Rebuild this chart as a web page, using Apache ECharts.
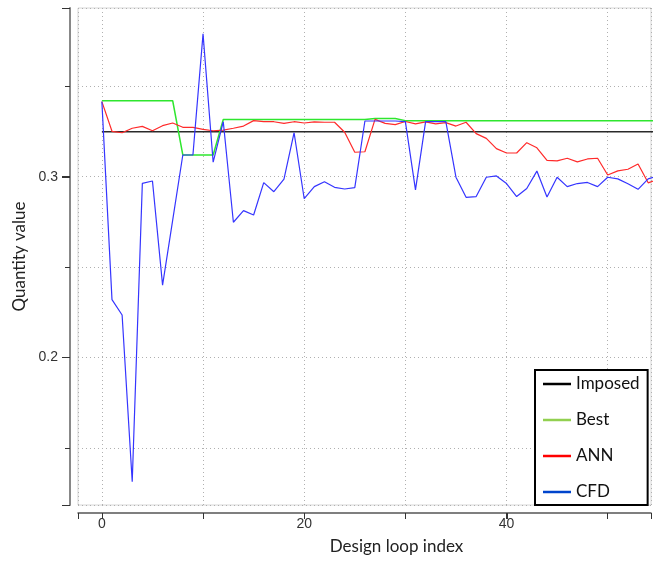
<!DOCTYPE html>
<html><head><meta charset="utf-8">
<script src="https://cdn.jsdelivr.net/npm/echarts@6/dist/echarts.min.js"></script>
<style>html,body{margin:0;padding:0;background:#fff}#c{width:654px;height:563px}</style>
</head><body><div id="c"></div>
<script>
const loopIndex = [0,1,2,3,4,5,6,7,8,9,10,11,12,13,14,15,16,17,18,19,20,21,22,23,24,25,26,27,28,29,30,31,32,33,34,35,36,37,38,39,40,41,42,43,44,45,46,47,48,49,50,51,52,53,54,55];
const cfd = [0.3415,0.232,0.2235,0.1313,0.2963,0.2976,0.240,0.276,0.312,0.312,
  0.379,0.308,0.3304,0.2748,0.2812,0.2788,0.2967,0.2917,0.2986,0.3243,
  0.2878,0.2945,0.2972,0.2941,0.2932,0.2939,0.3308,0.3308,0.3308,0.3308,
  0.3305,0.2927,0.3305,0.3305,0.3305,0.2997,0.2886,0.289,0.2997,0.3004,
  0.2962,0.289,0.2935,0.3031,0.2888,0.2997,0.2945,0.2962,0.2968,0.2945,
  0.2997,0.2988,0.2961,0.293,0.2988,0.3005];
const ann = [0.3415,0.3251,0.3243,0.3268,0.3278,0.3254,0.3282,0.3297,0.3273,0.3273,
  0.3262,0.3254,0.3258,0.3268,0.328,0.331,0.3304,0.3304,0.3295,0.3304,
  0.3297,0.3303,0.3301,0.3301,0.3246,0.3135,0.3138,0.3317,0.3295,0.3288,
  0.3305,0.3292,0.3303,0.3292,0.3299,0.328,0.3301,0.3238,0.3212,0.3155,
  0.3131,0.3131,0.3188,0.316,0.309,0.3087,0.3102,0.3082,0.3098,0.3102,
  0.3009,0.3032,0.3041,0.307,0.2966,0.2985];
const best = [0.342,0.342,0.342,0.342,0.342,0.342,0.342,0.342,0.312,0.312,
  0.312,0.312,0.3316,0.3316,0.3316,0.3316,0.3316,0.3316,0.3316,0.3316,
  0.3316,0.3316,0.3316,0.3316,0.3316,0.3316,0.3316,0.3322,0.3322,0.3322,
  0.331,0.331,0.331,0.331,0.331,0.331,0.331,0.331,0.331,0.331,
  0.331,0.331,0.331,0.331,0.331,0.331,0.331,0.331,0.331,0.331,
  0.331,0.331,0.331,0.331,0.331,0.331];
const imposedX = [0, 55];
const imposedY = [0.3248, 0.3248];
const xLabelValues = [0,20,40];
const yLabelValues = [0.2,0.3];
const seriesNames = ['Imposed','Best','ANN','CFD'];

const near = (v, list) => list.some(t => Math.abs(v - t) < 1e-6);
const pairs = (xs, ys) => xs.map((x, i) => [x, ys[i]]);
const chart = echarts.init(document.getElementById('c'), null, {renderer:'canvas'});
const dotted = {color:'#b0b0b0', width:1, type:[1,3]};
const X_MIN = -2.36, X_MAX = 54.28, Y_MIN = 0.1184, Y_MAX = 0.3933, AXIS_OFFSET = 8;
const xRange = {type:'value', min:X_MIN, max:X_MAX, splitNumber:5, offset:AXIS_OFFSET, position:'bottom'};
const yRange = {type:'value', min:Y_MIN, max:Y_MAX, splitNumber:2, offset:AXIS_OFFSET, position:'left'};
chart.setOption({
  animation:false,
  backgroundColor:'#fff',
  grid:{left:78, right:0, top:8, bottom:58, show:true, borderColor:'#d6d6d6', borderWidth:1, backgroundColor:'#fff'},
  xAxis:[
    Object.assign({}, xRange, {
      axisLine:{show:true, onZero:false, lineStyle:{color:'#555', width:1.5}},
      axisTick:{show:true, length:6, lineStyle:{color:'#333'}},
      axisLabel:{show:false},
      splitLine:{show:true, lineStyle:dotted}
    }),
    Object.assign({}, xRange, {
      axisLine:{show:false, onZero:false},
      axisTick:{show:false},
      splitLine:{show:false},
      axisLabel:{margin:4, hideOverlap:false,
        fontFamily:'Liberation Sans', fontSize:14, color:'#333',
        formatter:v => near(v, xLabelValues) ? String(Math.round(v)) : ''},
      name:'Design loop index', nameLocation:'middle', nameGap:25,
      nameTextStyle:{fontFamily:'Lato', fontSize:17, color:'#222', padding:[0,0,0,64]}
    })
  ],
  yAxis:[
    Object.assign({}, yRange, {
      axisLine:{show:true, onZero:false, lineStyle:{color:'#888', width:2}},
      axisTick:{show:true, length:8, lineStyle:{color:'#333'}},
      minorTick:{show:true, splitNumber:2, length:5, lineStyle:{color:'#333'}},
      axisLabel:{show:false},
      splitLine:{show:true, lineStyle:dotted},
      minorSplitLine:{show:true, lineStyle:dotted}
    }),
    Object.assign({}, yRange, {
      axisLine:{show:false, onZero:false},
      axisTick:{show:false},
      splitLine:{show:false},
      axisLabel:{margin:12, hideOverlap:false,
        fontFamily:'Liberation Sans', fontSize:14, color:'#333',
        formatter:v => near(v, yLabelValues) ? v.toFixed(1) : ''},
      name:'Quantity value', nameLocation:'middle', nameGap:38,
      nameTextStyle:{fontFamily:'Lato', fontSize:17, color:'#222'}
    })
  ],
  legend:{
    orient:'vertical', left:535, top:370, padding:[5,8,4,8], itemGap:18,
    itemWidth:28, itemHeight:2.5, icon:'rect',
    borderColor:'#000', borderWidth:2, backgroundColor:'#fff',
    textStyle:{fontFamily:'Lato', fontSize:17, color:'#111', lineHeight:18},
    data:[
      {name:seriesNames[0], itemStyle:{color:'#000'}},
      {name:seriesNames[1], itemStyle:{color:'#92d050'}},
      {name:seriesNames[2], itemStyle:{color:'#ff0000'}},
      {name:seriesNames[3], itemStyle:{color:'#0044cc'}}
    ]
  },
  series:[
    {name:seriesNames[0], type:'line', data:pairs(imposedX, imposedY), showSymbol:false, symbol:'none',
      lineStyle:{color:'#2a2a2a', width:1.5}, itemStyle:{color:'#000'}},
    {name:seriesNames[1], type:'line', data:pairs(loopIndex, best), showSymbol:false, symbol:'none',
      lineStyle:{color:'#2ee62e', width:1.5}, itemStyle:{color:'#92d050'}},
    {name:seriesNames[2], type:'line', data:pairs(loopIndex, ann), showSymbol:false, symbol:'none',
      lineStyle:{color:'#ff2a2a', width:1.2}, itemStyle:{color:'#ff0000'}},
    {name:seriesNames[3], type:'line', data:pairs(loopIndex, cfd), showSymbol:false, symbol:'none',
      lineStyle:{color:'#3535ff', width:1.2}, itemStyle:{color:'#0044cc'}}
  ]
});

// Tick marks at the labelled values, placed through the axes' own scales.
const axisY = chart.convertToPixel({yAxisIndex:0}, Y_MIN) + AXIS_OFFSET;
const axisX = chart.convertToPixel({xAxisIndex:0}, X_MIN) - AXIS_OFFSET;
const tickStyle = {stroke:'#333', lineWidth:1};
const tickEls = [];
xLabelValues.forEach(v => {
  const px = Math.round(chart.convertToPixel({xAxisIndex:0}, v)) + 0.5;
  tickEls.push({type:'line', z:100, silent:true, shape:{x1:px, y1:axisY, x2:px, y2:axisY + 6}, style:tickStyle});
});
yLabelValues.forEach(v => {
  const py = Math.round(chart.convertToPixel({yAxisIndex:0}, v)) + 0.5;
  tickEls.push({type:'line', z:100, silent:true, shape:{x1:axisX - 8, y1:py, x2:axisX, y2:py}, style:tickStyle});
});
chart.setOption({graphic:{elements:tickEls}});
</script></body></html>
